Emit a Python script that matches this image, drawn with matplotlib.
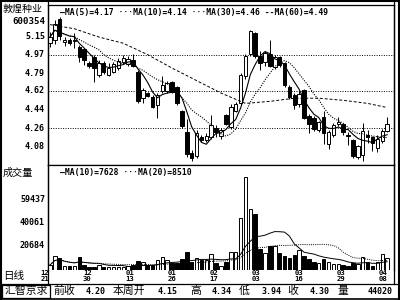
import numpy as np
import pandas as pd
import matplotlib
matplotlib.use("Agg")
import matplotlib.pyplot as plt
from matplotlib.lines import Line2D
from matplotlib.patches import Rectangle

CJK = ['Noto Sans CJK SC', 'DejaVu Sans']
MONO = ['DejaVu Sans Mono']

# daily candles
opens = [5.08, 5.11, 5.31, 5.09, 5.11, 5.10, 5.04, 5.02, 4.89, 4.95,
         4.77, 4.89, 4.77, 4.80, 4.84, 4.90, 4.88, 4.92, 4.80, 4.55,
         4.60, 4.56, 4.48, 4.62, 4.62, 4.71, 4.66, 4.43, 4.22, 4.02,
         3.99, 4.18, 4.15, 4.18, 4.26, 4.19, 4.39, 4.27, 4.43, 4.50,
         4.76, 4.98, 5.18, 4.96, 4.90, 4.98, 4.85, 4.95, 4.89, 4.66,
         4.58, 4.49, 4.63, 4.38, 4.36, 4.24, 4.37, 4.11, 4.20, 4.30,
         4.30, 4.20, 4.15, 3.98, 4.00, 4.20, 4.18, 4.07, 4.14, 4.23]
closes = [5.14, 5.27, 5.15, 5.11, 5.08, 5.11, 4.95, 4.92, 4.86, 4.84,
          4.89, 4.80, 4.84, 4.88, 4.91, 4.94, 4.93, 4.86, 4.52, 4.63,
          4.57, 4.47, 4.58, 4.68, 4.70, 4.61, 4.50, 4.28, 4.01, 3.97,
          4.21, 4.15, 4.19, 4.29, 4.22, 4.24, 4.30, 4.47, 4.49, 4.77,
          4.96, 5.20, 4.96, 4.89, 4.99, 4.86, 4.95, 4.87, 4.68, 4.56,
          4.48, 4.59, 4.36, 4.30, 4.25, 4.32, 4.21, 4.22, 4.29, 4.32,
          4.22, 4.19, 3.99, 4.09, 4.23, 4.18, 4.12, 4.16, 4.23, 4.30]
highs = [5.19, 5.30, 5.33, 5.14, 5.13, 5.18, 5.06, 5.03, 4.91, 4.97,
         4.92, 4.91, 4.89, 4.90, 4.94, 4.97, 4.96, 4.98, 4.82, 4.65,
         4.61, 4.58, 4.60, 4.76, 4.72, 4.72, 4.67, 4.44, 4.35, 4.05,
         4.24, 4.20, 4.21, 4.39, 4.29, 4.26, 4.40, 4.49, 4.51, 4.79,
         4.98, 5.21, 5.19, 5.01, 5.01, 5.11, 4.97, 4.96, 4.90, 4.68,
         4.60, 4.62, 4.64, 4.40, 4.38, 4.33, 4.43, 4.24, 4.31, 4.37,
         4.31, 4.22, 4.16, 4.10, 4.31, 4.24, 4.19, 4.20, 4.25, 4.37]
lows = [5.04, 5.07, 5.11, 5.05, 5.06, 5.03, 4.90, 4.87, 4.84, 4.71,
        4.75, 4.78, 4.76, 4.79, 4.82, 4.88, 4.86, 4.85, 4.50, 4.50,
        4.56, 4.46, 4.36, 4.60, 4.60, 4.60, 4.48, 4.26, 3.98, 3.94,
        3.97, 4.13, 4.13, 4.16, 4.18, 4.16, 4.29, 4.25, 4.42, 4.48,
        4.74, 4.96, 4.94, 4.82, 4.86, 4.85, 4.83, 4.85, 4.66, 4.54,
        4.45, 4.47, 4.35, 4.21, 4.23, 4.22, 4.11, 4.06, 4.18, 4.28,
        4.20, 4.10, 3.97, 3.96, 3.94, 4.12, 4.04, 4.03, 4.12, 4.22]
volumes = [4200, 11800, 10100, 3400, 3400, 3400, 11000, 4200, 2500, 2500,
           4200, 2500, 2500, 2500, 2500, 2500, 3400, 3800, 7600, 6700,
           4200, 4200, 8400, 11000, 8400, 5900, 5900, 9300, 15000, 6700,
           10100, 8400, 8400, 13500, 5900, 3400, 6700, 15200, 15200, 43800,
           78400, 51400, 47200, 17700, 14300, 20200, 20200, 14300, 11800, 10100,
           12600, 16900, 11800, 9300, 7000, 5600, 9300, 7000, 5000, 5000,
           4200, 3400, 5600, 5000, 10700, 7000, 3400, 7000, 13500, 10100]

# MA(30) line (bar index, value)
ma30_bars = [0, 5, 10, 15, 20, 25, 30, 35, 40, 45, 50, 55, 60, 65, 69]
ma30_vals = [5.26, 5.22, 5.14, 5.08, 4.97, 4.84, 4.72, 4.60, 4.50, 4.52,
             4.55, 4.55, 4.53, 4.50, 4.46]

date_labels = ['12\n21', '12\n30', '01\n13', '01\n26', '02\n17',
               '03\n03', '03\n16', '03\n29', '04\n08']
price_ticks = [5.15, 4.97, 4.79, 4.62, 4.44, 4.26, 4.08]
price_grid = [4.97, 4.62, 4.26]
vol_ticks = [59437, 40061, 20684]
status_names = ['前收', '本周开', '高', '低', '收', '量']
status_vals = ['4.20', '4.15', '4.34', '3.94', '4.30', '44020']

W, H = 400, 300
fig = plt.figure(figsize=(4, 3), dpi=100)
fig.patch.set_facecolor('white')


def fx(px):
    return px / W


def fy(py):
    return 1 - py / H


n = len(closes)
x = np.arange(n)
up = np.array(closes) >= np.array(opens)
xlim = (-0.4, n + 0.4)

# ---- price panel
ax = fig.add_axes([fx(48), fy(165), fx(346), 160 / H])
ax.set_xlim(*xlim)
ax.set_ylim(3.906, 5.449)
for g in price_grid:
    ax.axhline(g, color='black', lw=0.7, ls=(0, (1, 1.5)), zorder=0)
ax.vlines(x, lows, highs, color='black', lw=0.7, zorder=2)
body_lo = np.minimum(opens, closes)
body_h = np.maximum(np.abs(np.array(closes) - np.array(opens)), 0.008)
ax.bar(x, body_h, bottom=body_lo, width=0.72,
       color=np.where(up, 'white', 'black'), edgecolor='black', lw=0.7, zorder=3)

cs = pd.Series(closes)
ax.plot(x, cs.rolling(5, min_periods=1).mean(), color='black', lw=0.8, zorder=4)
ax.plot(x, cs.rolling(10, min_periods=1).mean(), color='black', lw=0.8,
        ls=(0, (1, 1.2)), zorder=4)
ax.plot(ma30_bars, ma30_vals, color='black', lw=0.7, ls=(0, (3, 2)), zorder=4)

ax.text(fx(60), fy(12), '—MA(5)=4.17 ···MA(10)=4.14 ···MA(30)=4.46 --MA(60)=4.49',
        transform=fig.transFigure, family=MONO, weight='bold', fontsize=5.8,
        va='center', ha='left')
ax.set_xticks([])
ax.set_yticks([])

# ---- volume panel
axv = fig.add_axes([fx(48), fy(270), fx(346), 105 / H])
axv.set_xlim(*xlim)
axv.set_ylim(0, 88500)
axv.bar(x, volumes, width=0.72, color=np.where(up, 'white', 'black'),
        edgecolor='black', lw=0.7, zorder=3)
vs = pd.Series(volumes)
axv.plot(x, vs.rolling(10, min_periods=1).mean(), color='black', lw=0.7, zorder=4)
axv.plot(x, vs.rolling(20, min_periods=1).mean(), color='black', lw=0.7,
         ls=(0, (1, 1.2)), zorder=4)
axv.text(fx(60), fy(172), '—MA(10)=7628 ···MA(20)=8510',
         transform=fig.transFigure, family=MONO, weight='bold', fontsize=5.8,
         va='center', ha='left')
axv.set_xticks([])
axv.set_yticks([])
axv.spines['bottom'].set_visible(False)

for a in (ax, axv):
    for s in a.spines.values():
        s.set_linewidth(0.9)

# ---- left labels
for p in price_ticks:
    yy = ax.transData.transform((0, p))[1]
    yf = fig.transFigure.inverted().transform((0, yy))[1]
    fig.text(fx(45), yf, f'{p:.2f}', family=MONO, weight='bold', fontsize=6,
             ha='right', va='center')
for v in vol_ticks:
    yy = axv.transData.transform((0, v))[1]
    yf = fig.transFigure.inverted().transform((0, yy))[1]
    fig.text(fx(45), yf, str(v), family=MONO, weight='bold', fontsize=6,
             ha='right', va='center')

fig.text(fx(3), fy(9), '敦煌种业', family=CJK, fontsize=7.2, ha='left', va='center')
fig.text(fx(45), fy(21), '600354', family=MONO, weight='bold', fontsize=6.6,
         ha='right', va='center')
fig.text(fx(3), fy(173), '成交量', family=CJK, fontsize=7.3, ha='left', va='center')
fig.text(fx(3), fy(276), '日线', family=CJK, fontsize=7.6, ha='left', va='center')

# ---- dates below the volume panel
pos = np.linspace(-1, n - 1.8, len(date_labels))
for p, lab in zip(pos, date_labels):
    xp = axv.transData.transform((p, 0))[0]
    xf = fig.transFigure.inverted().transform((xp, 0))[0]
    fig.text(xf, fy(276), lab, family=MONO, weight='bold', fontsize=5.2,
             ha='center', va='center', linespacing=0.95)

# ---- status bar
fig.text(fx(26), fy(291), '汇智京求', family=CJK, fontsize=7.8, ha='center', va='center')
fig.add_artist(Rectangle((fx(2), fy(298)), fx(48), 13 / H, transform=fig.transFigure,
                         fill=False, lw=0.9, ec='black'))
name_x = [53, 113, 190, 239, 287, 337]
val_right = [106, 178, 232, 282, 330, 393]
for nm, vl, nx, vr in zip(status_names, status_vals, name_x, val_right):
    fig.text(fx(nx), fy(291), nm, family=CJK, fontsize=7.8, ha='left', va='center')
    fig.text(fx(vr), fy(291), vl, family=MONO, weight='bold', fontsize=6,
             ha='right', va='center')


# ---- outer frame
def hline(py, x0=0, x1=400, lw=0.9):
    fig.add_artist(Line2D([fx(x0), fx(x1)], [fy(py), fy(py)], color='black', lw=lw,
                          transform=fig.transFigure))


def vline(px, y0=0, y1=300, lw=0.9):
    fig.add_artist(Line2D([fx(px), fx(px)], [fy(y0), fy(y1)], color='black', lw=lw,
                          transform=fig.transFigure))


hline(0.8, lw=1.5)
hline(284)
hline(299.3, lw=1.2)
vline(0.8, lw=1.5)
vline(48, 0, 284)
vline(394, 0, 284)
vline(398.8, lw=1.5)

fig.savefig('out.png', dpi=100)
